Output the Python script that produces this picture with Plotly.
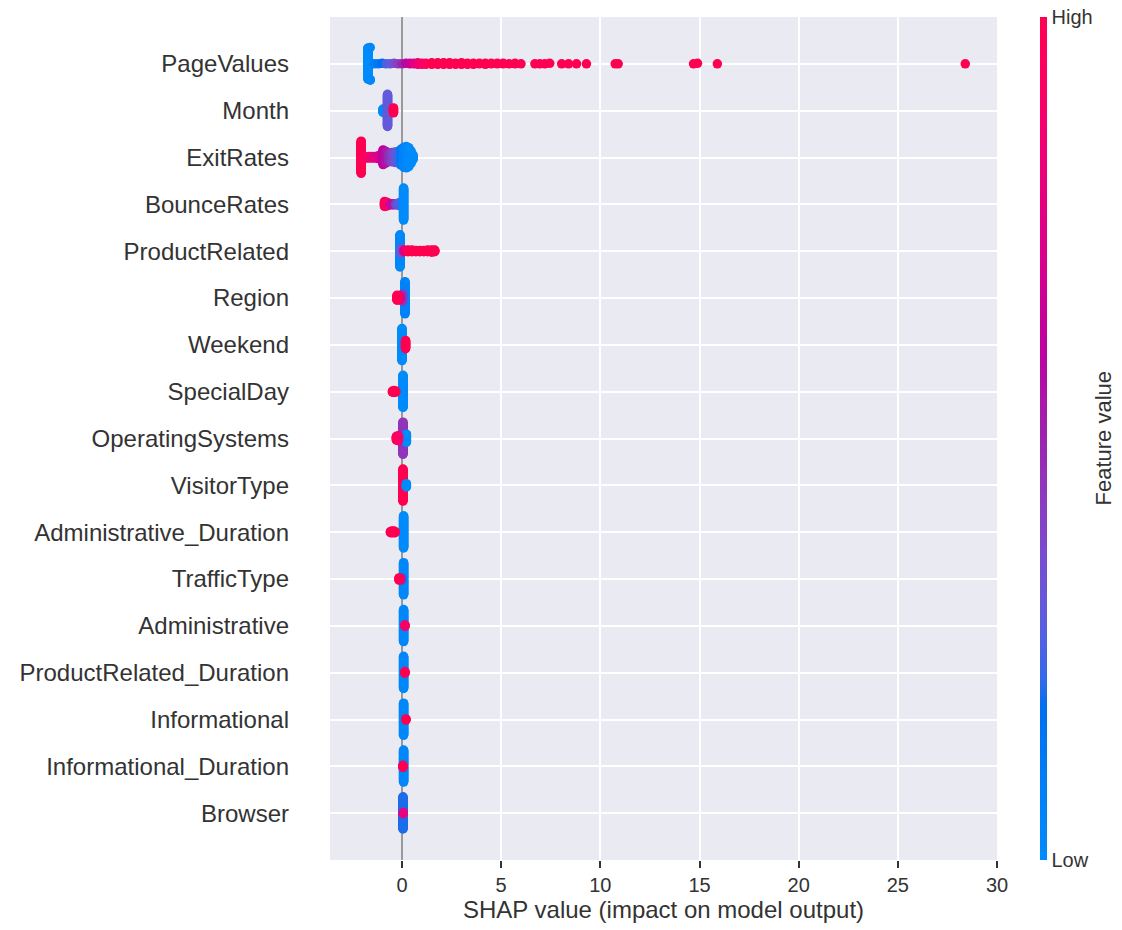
import numpy as np
import plotly.graph_objects as go

# ---------------- data ----------------
# features listed top to bottom
FEATURES = ["PageValues", "Month", "ExitRates", "BounceRates", "ProductRelated",
            "Region", "Weekend", "SpecialDay", "OperatingSystems", "VisitorType",
            "Administrative_Duration", "TrafficType", "Administrative",
            "ProductRelated_Duration", "Informational", "Informational_Duration",
            "Browser"]

# each feature: SHAP value of a cluster, normalised feature value (0 low .. 1 high), number of dots
PAGEVALUES_SHAP = [-1.72, -1.6, -1.4, -1.2, -1.0, -0.8, -0.6, -0.4, -0.2, 0.0, 0.2, 0.4, 0.6, 0.8,
                   1.0, 1.2, 1.5, 1.8, 2.1, 2.4, 2.7, 3.0, 3.3, 3.6, 3.9, 4.2, 4.5, 4.8, 5.1, 5.4,
                   5.7, 6.0, 6.7, 6.95, 7.2, 7.45, 8.05, 8.4, 8.8, 9.3, 10.75, 10.9, 14.7, 14.9,
                   15.9, 28.4]
PAGEVALUES_VALUE = [0.0, 0.02, 0.08, 0.12, 0.18, 0.24, 0.3, 0.36, 0.42, 0.5, 0.58, 0.66, 0.74, 0.82,
                    0.9, 0.95, 1, 1, 1, 1, 1, 1, 1, 1, 1, 1, 1, 1, 1, 1,
                    1, 1, 1, 1, 1, 1, 1, 1, 1, 1, 1, 1, 1, 1,
                    1, 1]
PAGEVALUES_COUNT = [60, 3, 1, 1, 1, 1, 1, 1, 1, 1, 1, 2, 2, 2,
                    3, 3, 4, 4, 4, 4, 3, 4, 3, 3, 2, 3, 2, 2, 2, 1,
                    2, 1, 1, 1, 1, 1, 1, 1, 1, 1, 1, 1, 1, 1,
                    1, 1]

MONTH_SHAP = [-0.96, -0.73, -0.43]
MONTH_VALUE = [0.0, 0.3, 1.0]
MONTH_COUNT = [7, 60, 10]

EXITRATES_SHAP = [-2.06, -1.95, -1.8, -1.65, -1.5, -1.35, -1.2, -0.95, -0.8, -0.65, -0.5, -0.35,
                  -0.2, -0.05, 0.1, 0.22, 0.34, 0.45, 0.55]
EXITRATES_VALUE = [1.0, 0.97, 0.93, 0.88, 0.83, 0.78, 0.72, 0.62, 0.55, 0.47, 0.4, 0.33,
                   0.25, 0.12, 0.06, 0.03, 0.0, 0.0, 0.0]
EXITRATES_COUNT = [60, 3, 3, 4, 4, 4, 6, 28, 22, 16, 18, 20,
                   22, 30, 38, 40, 36, 24, 10]

BOUNCERATES_SHAP = [-0.88, -0.76, -0.6, -0.45, -0.3, -0.15, 0.08]
BOUNCERATES_VALUE = [1.0, 0.92, 0.7, 0.55, 0.4, 0.25, 0.0]
BOUNCERATES_COUNT = [10, 8, 3, 3, 3, 6, 60]

PRODUCTRELATED_SHAP = [-0.1, -0.06, 0.1, 0.3, 0.5, 0.7, 0.9, 1.1, 1.3, 1.5, 1.65]
PRODUCTRELATED_VALUE = [0.02, 0.3, 0.75, 1, 1, 1, 1, 1, 1, 1, 1]
PRODUCTRELATED_COUNT = [60, 10, 4, 4, 4, 3, 3, 3, 4, 5, 4]

REGION_SHAP = [0.15, 0.02, -0.12, -0.25]
REGION_VALUE = [0.05, 0.45, 0.75, 1.0]
REGION_COUNT = [60, 14, 8, 10]

WEEKEND_SHAP = [0.0, 0.18]
WEEKEND_VALUE = [0.0, 1.0]
WEEKEND_COUNT = [60, 16]

SPECIALDAY_SHAP = [0.05, -0.48, -0.4, -0.32]
SPECIALDAY_VALUE = [0.0, 1.0, 1.0, 1.0]
SPECIALDAY_COUNT = [60, 3, 4, 3]

OPERATINGSYSTEMS_SHAP = [0.05, 0.22, -0.28, -0.18]
OPERATINGSYSTEMS_VALUE = [0.45, 0.0, 1.0, 0.9]
OPERATINGSYSTEMS_COUNT = [60, 16, 8, 10]

VISITORTYPE_SHAP = [0.05, 0.22]
VISITORTYPE_VALUE = [1.0, 0.0]
VISITORTYPE_COUNT = [60, 7]

ADMIN_DURATION_SHAP = [0.08, -0.58, -0.5, -0.42, -0.35]
ADMIN_DURATION_VALUE = [0.0, 1.0, 1.0, 1.0, 1.0]
ADMIN_DURATION_COUNT = [60, 3, 4, 4, 3]

TRAFFICTYPE_SHAP = [0.08, -0.04, -0.15]
TRAFFICTYPE_VALUE = [0.02, 0.5, 1.0]
TRAFFICTYPE_COUNT = [60, 5, 5]

ADMINISTRATIVE_SHAP = [0.08, 0.15]
ADMINISTRATIVE_VALUE = [0.02, 0.9]
ADMINISTRATIVE_COUNT = [60, 4]

PR_DURATION_SHAP = [0.08, 0.15]
PR_DURATION_VALUE = [0.02, 1.0]
PR_DURATION_COUNT = [60, 4]

INFORMATIONAL_SHAP = [0.08, 0.2]
INFORMATIONAL_VALUE = [0.02, 1.0]
INFORMATIONAL_COUNT = [60, 3]

INFO_DURATION_SHAP = [0.08, 0.05]
INFO_DURATION_VALUE = [0.02, 1.0]
INFO_DURATION_COUNT = [60, 5]

BROWSER_SHAP = [0.05, 0.06]
BROWSER_VALUE = [0.2, 0.8]
BROWSER_COUNT = [60, 3]

X_TICKS = [0, 5, 10, 15, 20, 25, 30]
X_TITLE = "SHAP value (impact on model output)"
CBAR_TITLE = "Feature value"
CBAR_TICKS = ["Low", "High"]

FEATURE_DATA = [
    (PAGEVALUES_SHAP, PAGEVALUES_VALUE, PAGEVALUES_COUNT),
    (MONTH_SHAP, MONTH_VALUE, MONTH_COUNT),
    (EXITRATES_SHAP, EXITRATES_VALUE, EXITRATES_COUNT),
    (BOUNCERATES_SHAP, BOUNCERATES_VALUE, BOUNCERATES_COUNT),
    (PRODUCTRELATED_SHAP, PRODUCTRELATED_VALUE, PRODUCTRELATED_COUNT),
    (REGION_SHAP, REGION_VALUE, REGION_COUNT),
    (WEEKEND_SHAP, WEEKEND_VALUE, WEEKEND_COUNT),
    (SPECIALDAY_SHAP, SPECIALDAY_VALUE, SPECIALDAY_COUNT),
    (OPERATINGSYSTEMS_SHAP, OPERATINGSYSTEMS_VALUE, OPERATINGSYSTEMS_COUNT),
    (VISITORTYPE_SHAP, VISITORTYPE_VALUE, VISITORTYPE_COUNT),
    (ADMIN_DURATION_SHAP, ADMIN_DURATION_VALUE, ADMIN_DURATION_COUNT),
    (TRAFFICTYPE_SHAP, TRAFFICTYPE_VALUE, TRAFFICTYPE_COUNT),
    (ADMINISTRATIVE_SHAP, ADMINISTRATIVE_VALUE, ADMINISTRATIVE_COUNT),
    (PR_DURATION_SHAP, PR_DURATION_VALUE, PR_DURATION_COUNT),
    (INFORMATIONAL_SHAP, INFORMATIONAL_VALUE, INFORMATIONAL_COUNT),
    (INFO_DURATION_SHAP, INFO_DURATION_VALUE, INFO_DURATION_COUNT),
    (BROWSER_SHAP, BROWSER_VALUE, BROWSER_COUNT),
]


# ---------------- SHAP "red_blue" colour map (LCH interpolation) ----------------
def lch_to_hex(l, c, h):
    a, b = c * np.cos(h), c * np.sin(h)
    fy = (l + 16) / 116
    fx, fz = fy + a / 500, fy - b / 200

    def finv(t):
        return t ** 3 if t ** 3 > 0.008856 else (t - 16 / 116) / 7.787

    X, Y, Z = 0.95047 * finv(fx), finv(fy), 1.08883 * finv(fz)
    rgb = [3.2406 * X - 1.5372 * Y - 0.4986 * Z,
           -0.9689 * X + 1.8758 * Y + 0.0415 * Z,
           0.0557 * X - 0.2040 * Y + 1.0570 * Z]
    out = []
    for u in rgb:
        u = min(max(u, 0.0), 1.0)
        u = 1.055 * u ** (1 / 2.4) - 0.055 if u > 0.0031308 else 12.92 * u
        out.append(int(round(min(max(u, 0), 1) * 255)))
    return "#%02x%02x%02x" % tuple(out)


blue_lch = [54.0, 70.0, 4.6588]
red_lch = [54.0, 90.0, 0.35470565 + 2 * np.pi]
l_mid = 40.0
nsteps = 100
l_vals = list(np.linspace(blue_lch[0], l_mid, nsteps // 2)) + list(np.linspace(l_mid, red_lch[0], nsteps // 2))
c_vals = np.linspace(blue_lch[1], red_lch[1], nsteps)
h_vals = np.linspace(blue_lch[2], red_lch[2], nsteps)
pos_vals = np.linspace(0, 1, nsteps)
colorscale = [[float(p), lch_to_hex(l, c, h)] for p, l, c, h in
              zip(pos_vals, l_vals, c_vals, h_vals)][::3] + [[1.0, lch_to_hex(*red_lch)]]


# ---------------- beeswarm layout (as shap.summary_plot) ----------------
def swarm(shap_vals, counts, nbins=100, row_height=0.4):
    xs = np.repeat(np.asarray(shap_vals, float), counts)
    n = len(xs)
    lo, hi = xs.min(), xs.max()
    quant = np.round(nbins * (xs - lo) / (hi - lo + 1e-8))
    inds = np.argsort(quant, kind="stable")
    ys = np.zeros(n)
    layer, last = 0, None
    for i in inds:
        if quant[i] != last:
            layer = 0
        ys[i] = np.ceil(layer / 2) * ((layer % 2) * 2 - 1)
        layer += 1
        last = quant[i]
    ys *= 0.9 * (row_height / np.max(ys + 1))
    return xs, ys


fig = go.Figure()
nfeat = len(FEATURES)
for k, (name, (sv, fv, cnt)) in enumerate(zip(FEATURES, FEATURE_DATA)):
    row = nfeat - 1 - k
    xs, ys = swarm(sv, cnt)
    cols = np.repeat(np.asarray(fv, float), cnt)
    fig.add_trace(go.Scatter(
        x=xs, y=row + ys, mode="markers",
        marker=dict(size=9.5, color=cols, coloraxis="coloraxis", line=dict(width=0)),
        showlegend=False, hoverinfo="skip", name=name,
    ))

FONT = "Liberation Sans, Arial, sans-serif"
TXT = "#333333"

fig.update_layout(
    width=1122, height=930,
    margin=dict(l=330, r=125, t=17, b=70, autoexpand=False),
    paper_bgcolor="white", plot_bgcolor="#eaeaf2",
    font=dict(family=FONT, color=TXT),
    coloraxis=dict(
        colorscale=colorscale, cmin=0, cmax=1,
        colorbar=dict(
            thickness=7, len=1.0, lenmode="fraction", y=0.5, yanchor="middle",
            x=1.0645, xanchor="left", xpad=0, ypad=0, outlinewidth=0,
            tickvals=[0, 1], ticktext=CBAR_TICKS, ticks="", ticklen=0,
            ticklabeloverflow="allow",
            tickfont=dict(size=20, color=TXT, family=FONT),
        ),
    ),
    xaxis=dict(
        range=[-3.63, 30.0], tickvals=X_TICKS, ticktext=[str(t) for t in X_TICKS],
        showgrid=True, gridcolor="white", gridwidth=1.8,
        zeroline=True, zerolinecolor="#999999", zerolinewidth=1.5,
        showline=False, ticks="outside", ticklen=7, tickwidth=2, tickcolor="#333333",
        tickfont=dict(size=20, color=TXT),
        title=dict(text=X_TITLE, font=dict(size=24, color=TXT), standoff=6),
    ),
    yaxis=dict(
        range=[-1, nfeat], tickvals=list(range(nfeat)), ticktext=FEATURES[::-1],
        showgrid=True, gridcolor="white", gridwidth=1.8, zeroline=False,
        showline=False, ticks="", tickfont=dict(size=24, color=TXT),
        ticklabelstandoff=40,
    ),
    annotations=[dict(
        text=CBAR_TITLE, textangle=-90, xref="paper", yref="paper",
        x=(1103 - 330) / 667, y=0.5, xanchor="center", yanchor="middle",
        showarrow=False, font=dict(size=22, color=TXT, family=FONT),
    )],
)

# remove the browser's default 8 px page margin so the figure fills the window exactly
fig.write_html("out.html", config={"displayModeBar": False},
               post_script="document.body.style.margin='0';")
